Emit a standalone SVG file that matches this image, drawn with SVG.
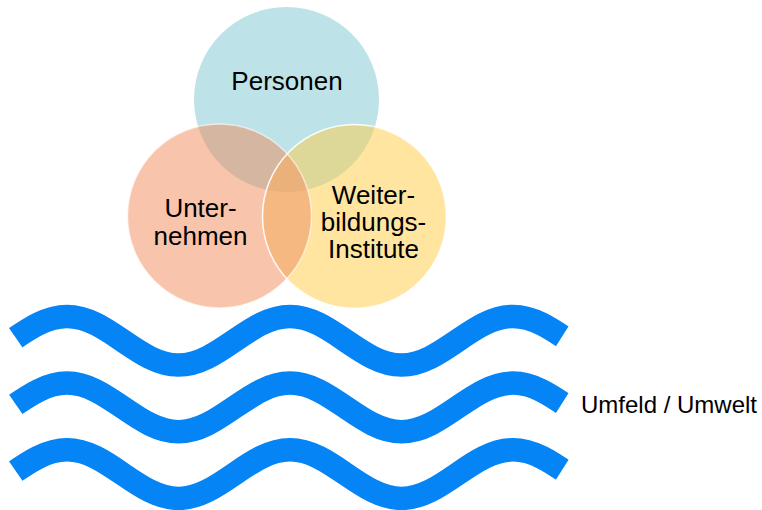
<svg xmlns="http://www.w3.org/2000/svg" xmlns:xlink="http://www.w3.org/1999/xlink" width="762" height="510" viewBox="0 0 762 510">
  <style>
    .lbl { font-family: "Liberation Sans", Arial, sans-serif; font-size: 26px; fill: #000; text-anchor: middle; }
    .env { font-family: "Liberation Sans", Arial, sans-serif; font-size: 24px; fill: #000; }
    .wave { fill: none; stroke: #0584F5; stroke-width: 23.5; stroke-linecap: butt; }
    .outline { fill: none; stroke: #fff; stroke-width: 1.5; }
  </style>
  <defs>
    <clipPath id="clipP" clipPathUnits="userSpaceOnUse"><circle cx="286.5" cy="99.5" r="92.5"/></clipPath>
    <clipPath id="clipU" clipPathUnits="userSpaceOnUse"><circle cx="219.5" cy="216" r="92"/></clipPath>
    <clipPath id="clipW" clipPathUnits="userSpaceOnUse"><circle cx="354.5" cy="216.5" r="92"/></clipPath>
    <clipPath id="waveClip" clipPathUnits="userSpaceOnUse">
      <polygon points="-17.2,290 591.6,290 526.9,392 53.3,392"/>
    </clipPath>
  </defs>

  <g id="personen">
    <circle cx="286.5" cy="99.5" r="92.5" fill="#BDE3E8"/>
    <text class="lbl" x="287" y="90">Personen</text>
  </g>
  <g id="unternehmen">
    <circle cx="219.5" cy="216" r="92" fill="#F8C5AC"/>
    <text class="lbl" x="200.5" y="217">Unter-</text>
    <text class="lbl" x="200.5" y="245">nehmen</text>
  </g>
  <g id="weiterbildungsinstitute">
    <circle cx="354.5" cy="216.5" r="92" fill="#FFE5A0"/>
    <text class="lbl" x="373.5" y="204">Weiter-</text>
    <text class="lbl" x="373.5" y="231">bildungs-</text>
    <text class="lbl" x="373.5" y="258">Institute</text>
  </g>

  <g id="overlaps">
    <circle cx="219.5" cy="216" r="92" fill="#D5B6A0" clip-path="url(#clipP)"/>
    <circle cx="354.5" cy="216.5" r="92" fill="#DDD898" clip-path="url(#clipP)"/>
    <circle cx="354.5" cy="216.5" r="92" fill="#F4B880" clip-path="url(#clipU)"/>
    <g clip-path="url(#clipP)">
      <circle cx="354.5" cy="216.5" r="92" fill="#EBB17A" clip-path="url(#clipU)"/>
    </g>
  </g>
  <g id="outlines">
    <circle class="outline" cx="219.5" cy="216" r="92" stroke-opacity="0.6"/>
    <circle class="outline" cx="354.5" cy="216.5" r="92" stroke-opacity="0.9"/>
  </g>

  <g id="umfeld">
    <g id="wave1" clip-path="url(#waveClip)">
      <path class="wave" d="M -44.5 365 C -3.9 365, 26.4 316.4, 67 316.4 C 107.6 316.4, 137.9 365, 178.5 365 C 219.1 365, 249.4 316.4, 290 316.4 C 330.6 316.4, 360.9 365, 401.5 365 C 442.1 365, 472.4 316.4, 513 316.4 C 553.6 316.4, 583.9 365, 624.5 365"/>
    </g>
    <use xlink:href="#wave1" href="#wave1" x="0" y="66.7"/>
    <use xlink:href="#wave1" href="#wave1" x="0" y="133.4"/>
    <text class="env" x="581" y="413">Umfeld / Umwelt</text>
  </g>
</svg>
